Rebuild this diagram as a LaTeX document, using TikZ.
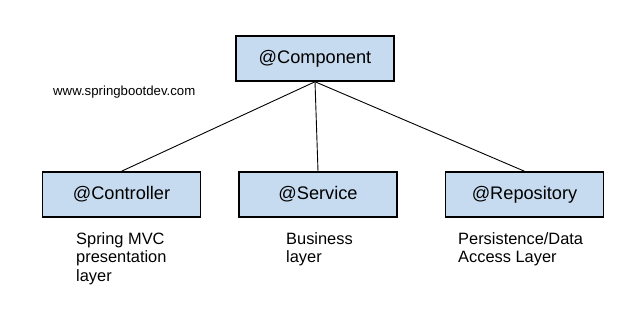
\documentclass[tikz,border=0pt]{standalone}
\usepackage{fontspec}
\setmainfont{Liberation Sans}
\definecolor{boxblue}{RGB}{198,219,239}
\begin{document}
\begin{tikzpicture}[x=1pt,y=-1pt,
  classbox/.style={draw=black, fill=boxblue, line width=1.5pt, minimum width=158pt, minimum height=45pt, inner sep=0pt, font=\fontsize{18.2}{21}\selectfont},
  note/.style={anchor=base west, align=left, inner sep=0pt, font=\fontsize{16.4}{18.5}\selectfont},
  link/.style={draw=black, line width=0.9pt}]
\useasboundingbox[fill=white] (0,0) rectangle (640,323);
\node[classbox] (comp) at (315,58.5) {@Component};
\node[classbox] (ctrl) at (121.5,194.5) {@Controller};
\node[classbox] (svc) at (318,194.5) {@Service};
\node[classbox] (repo) at (524.5,194.5) {@Repository};
\node[anchor=base west, inner sep=0pt, font=\fontsize{13.2}{15}\selectfont] (site) at (53,96) {www.springbootdev.com};
\draw[link] (comp.south) -- (ctrl.north);
\draw[link] (comp.south) -- (svc.north);
\draw[link] (comp.south) -- (repo.north);
\node[note] (ctrlnote) at (76,281) {Spring MVC\\presentation\\layer};
\node[note] (svcnote) at (286,262.5) {Business\\layer};
\node[note] (reponote) at (458,262.5) {Persistence/Data\\Access Layer};
\end{tikzpicture}
\end{document}
